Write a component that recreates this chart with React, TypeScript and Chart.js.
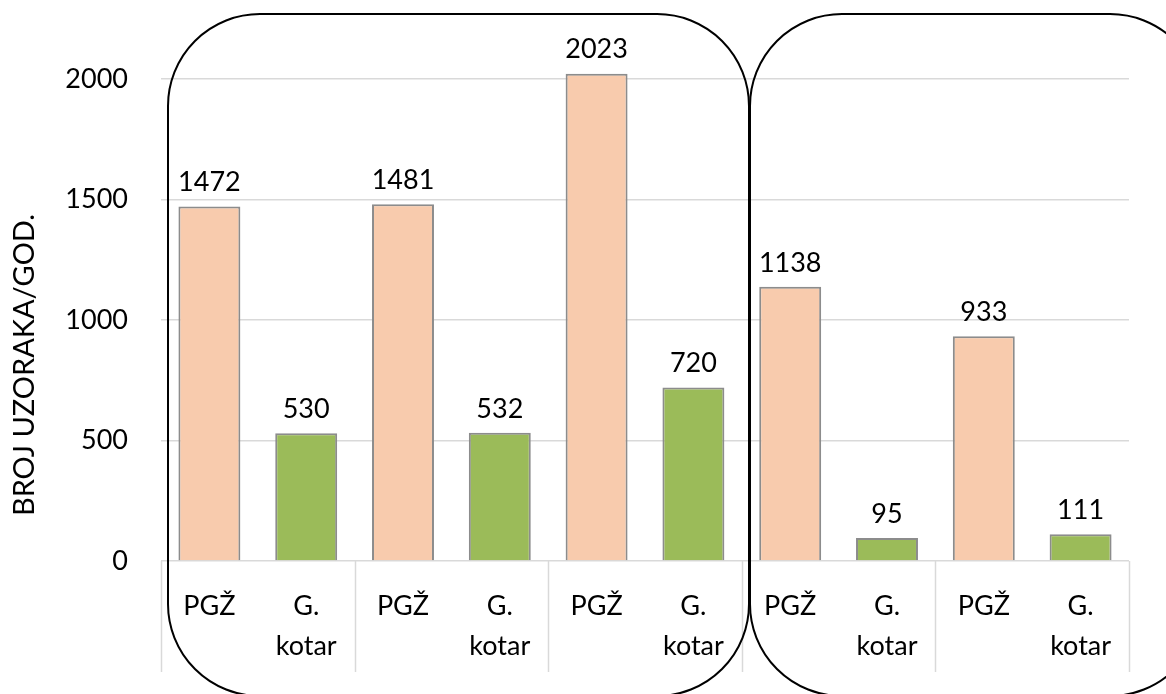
import React, { useEffect, useRef } from 'react';
import { Chart, registerables } from 'chart.js';

Chart.register(...registerables);

const categories = ['PGŽ', 'G. kotar', 'PGŽ', 'G. kotar', 'PGŽ', 'G. kotar', 'PGŽ', 'G. kotar', 'PGŽ', 'G. kotar'];
const values = [1472, 530, 1481, 532, 2023, 720, 1138, 95, 933, 111];
const barColors = ['#F8CBAD', '#9BBB59', '#F8CBAD', '#9BBB59', '#F8CBAD', '#9BBB59', '#F8CBAD', '#9BBB59', '#F8CBAD', '#9BBB59'];
const yTicks = [0, 500, 1000, 1500, 2000];
const yMin = 0;
const yMax = 2250;
const yTitle = 'BROJ UZORAKA/GOD.';

const FONT = 'Lato';

const overlayPlugin = {
  id: 'overlay',
  afterDraw(chart: any) {
    const ctx = chart.ctx;
    const area = chart.chartArea;
    const xs = chart.scales.x;
    const catW = xs.getPixelForValue(1) - xs.getPixelForValue(0);

    // group separators below the axis
    ctx.save();
    ctx.strokeStyle = '#d9d9d9';
    ctx.lineWidth = 1.5;
    for (let k = 0; k <= categories.length / 2; k++) {
      const x = Math.round(xs.getPixelForValue(2 * k) - catW / 2) + 0.5;
      ctx.beginPath();
      ctx.moveTo(x, area.bottom);
      ctx.lineTo(x, area.bottom + 111);
      ctx.stroke();
    }
    ctx.restore();

    // data labels
    const meta = chart.getDatasetMeta(0);
    ctx.save();
    ctx.fillStyle = '#000';
    ctx.font = `27px ${FONT}`;
    ctx.textAlign = 'center';
    ctx.textBaseline = 'middle';
    meta.data.forEach((bar: any, i: number) => {
      ctx.fillText(String(values[i]), bar.x, bar.y - 24);
    });
    ctx.restore();

    // y axis title
    ctx.save();
    ctx.fillStyle = '#000';
    ctx.font = `29px ${FONT}`;
    ctx.textAlign = 'center';
    ctx.textBaseline = 'middle';
    ctx.translate(25, 365);
    ctx.rotate(-Math.PI / 2);
    ctx.fillText(yTitle, 0, 0);
    ctx.restore();

    // rounded group frames
    ctx.save();
    ctx.strokeStyle = '#000';
    ctx.lineWidth = 2;
    ctx.beginPath();
    ctx.roundRect(168, 14, 581, 682, 92);
    ctx.stroke();
    ctx.beginPath();
    ctx.roundRect(750, 14, 452, 682, 92);
    ctx.stroke();
    ctx.restore();
  },
};

export default function App() {
  const ref = useRef<HTMLCanvasElement | null>(null);

  useEffect(() => {
    if (!ref.current) return;
    const chart = new Chart(ref.current, {
      type: 'bar',
      data: {
        labels: categories.map((c) => c.split(' ')),
        datasets: [
          {
            data: values,
            backgroundColor: barColors,
            borderColor: '#8c8c8c',
            borderWidth: 2,
            barPercentage: 0.64,
            categoryPercentage: 1,
          },
        ],
      },
      options: {
        responsive: false,
        animation: false,
        layout: { padding: { top: 19, right: 37, left: 0, bottom: 0 } },
        plugins: { legend: { display: false }, tooltip: { enabled: false } },
        scales: {
          x: {
            grid: { display: false },
            border: { display: false },
            ticks: {
              color: '#000',
              font: { family: FONT, size: 27, lineHeight: 1.48 },
              padding: 17,
              maxRotation: 0,
              autoSkip: false,
            },
            afterFit: (s: any) => {
              s.height = 133;
              s.paddingLeft = 0;
              s.paddingRight = 0;
            },
          },
          y: {
            min: yMin,
            max: yMax,
            border: { display: false },
            grid: { color: '#d9d9d9', lineWidth: 1.5, drawTicks: false },
            ticks: {
              color: '#000',
              font: { family: FONT, size: 27 },
              padding: 33,
              callback: (v: any) => String(v),
            },
            afterBuildTicks: (s: any) => {
              s.ticks = yTicks.map((v) => ({ value: v }));
            },
            afterFit: (s: any) => {
              s.width = 161;
              s.paddingTop = 0;
              s.paddingBottom = 0;
            },
          },
        },
      },
      plugins: [overlayPlugin],
    });
    return () => chart.destroy();
  }, []);

  return (
    <canvas
      ref={ref}
      width={1166}
      height={694}
      style={{ position: 'absolute', left: 0, top: 0, width: 1166, height: 694 }}
    />
  );
}
